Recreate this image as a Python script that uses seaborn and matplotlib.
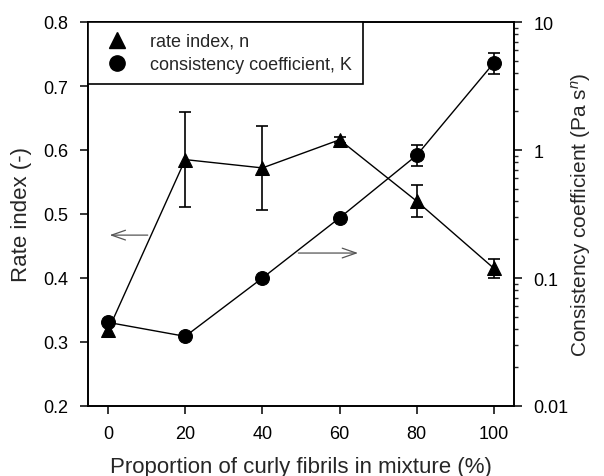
import matplotlib
matplotlib.use("Agg")
import matplotlib.pyplot as plt
import seaborn as sns
import numpy as np
import pandas as pd
from matplotlib.lines import Line2D
from matplotlib.ticker import FixedLocator, FixedFormatter, LogLocator, NullFormatter

proportion = [0, 20, 40, 60, 80, 100]
rate_index = [0.318, 0.585, 0.572, 0.616, 0.520, 0.415]
rate_err = [0.010, 0.074, 0.065, 0.005, 0.025, 0.015]
consistency = [0.045, 0.035, 0.10, 0.295, 0.91, 4.8]
cons_err_low = [0.0, 0.0, 0.0, 0.0, 0.16, 0.9]
cons_err_high = [0.0, 0.0, 0.0, 0.0, 0.19, 0.9]

left_ticks = [0.2, 0.3, 0.4, 0.5, 0.6, 0.7, 0.8]
right_ticks = [0.01, 0.1, 1, 10]
right_labels = ["0.01", "0.1", "1", "10"]
x_ticks = [0, 20, 40, 60, 80, 100]

sns.set_style("ticks")
plt.rcParams['font.family'] = ['Liberation Sans', 'DejaVu Sans']
plt.rcParams['mathtext.fontset'] = 'custom'
plt.rcParams['mathtext.it'] = 'Liberation Sans:italic'
plt.rcParams['mathtext.rm'] = 'Liberation Sans'

df = pd.DataFrame({"proportion": proportion, "n": rate_index, "K": consistency})

fig = plt.figure(figsize=(6.04, 4.77), dpi=100)
ax = fig.add_axes([88/604, 70/477, (514-88)/604, (407-23)/477])
ax2 = ax.twinx()

# rate index (left axis)
ax.errorbar(proportion, rate_index, yerr=rate_err, fmt='none', ecolor='black',
            elinewidth=1.2, capsize=4, capthick=1.2, zorder=2)
sns.lineplot(data=df, x="proportion", y="n", ax=ax, color='black', lw=1.0,
             marker='^', markersize=10, markeredgecolor='black', zorder=3)

# consistency coefficient (right axis)
ax2.errorbar(proportion, consistency, yerr=[cons_err_low, cons_err_high], fmt='none',
             ecolor='black', elinewidth=1.2, capsize=4, capthick=1.2, zorder=2)
sns.lineplot(data=df, x="proportion", y="K", ax=ax2, color='black', lw=1.0,
             marker='o', markersize=10, markeredgecolor='black', zorder=3)

ax.set_xlim(-5.2, 105.2)
ax.set_ylim(0.2, 0.8)
ax.set_xticks(x_ticks)
ax.set_yticks(left_ticks)
ax.set_yticklabels([f"{t:.1f}" for t in left_ticks])
ax.set_xlabel("Proportion of curly fibrils in mixture (%)", fontsize=16, labelpad=10)
ax.set_ylabel("Rate index (-)", fontsize=16, labelpad=8)

ax2.set_yscale('log')
ax2.set_ylim(0.01, 10)
ax2.yaxis.set_major_locator(FixedLocator(right_ticks))
ax2.yaxis.set_major_formatter(FixedFormatter(right_labels))
ax2.yaxis.set_minor_locator(LogLocator(base=10, subs=np.arange(2, 10)))
ax2.yaxis.set_minor_formatter(NullFormatter())
ax2.set_ylabel("Consistency coefficient (Pa s$^{\\mathit{n}}$)", fontsize=15, labelpad=0)

for a in (ax, ax2):
    for s in a.spines.values():
        s.set_linewidth(1.2)
        s.set_color('black')
    a.tick_params(axis='both', which='major', direction='out', length=6, width=1.1,
                  labelsize=13, colors='black', pad=8)
    a.tick_params(axis='y', which='minor', direction='out', length=3, width=1.0)

# arrows
ax.annotate("", xy=(-0.3, 0.467), xytext=(11, 0.467),
            arrowprops=dict(arrowstyle='->,head_length=1.0,head_width=0.35', color='#555555', lw=0.9))
ax.annotate("", xy=(65.5, 0.439), xytext=(48.6, 0.439),
            arrowprops=dict(arrowstyle='->,head_length=1.0,head_width=0.35', color='#555555', lw=0.9))

handles = [Line2D([], [], color='black', marker='^', linestyle='none', markersize=11),
           Line2D([], [], color='black', marker='o', linestyle='none', markersize=11)]
leg = ax2.legend(handles, ["rate index, n", "consistency coefficient, K"],
                 loc='upper left', bbox_to_anchor=(0, 1), fontsize=13,
                 frameon=True, fancybox=False, edgecolor='black', framealpha=1,
                 borderpad=0.6, handletextpad=0.85, labelspacing=0.35, borderaxespad=0)
leg.get_frame().set_linewidth(1.2)

fig.savefig("out.png", dpi=100)
